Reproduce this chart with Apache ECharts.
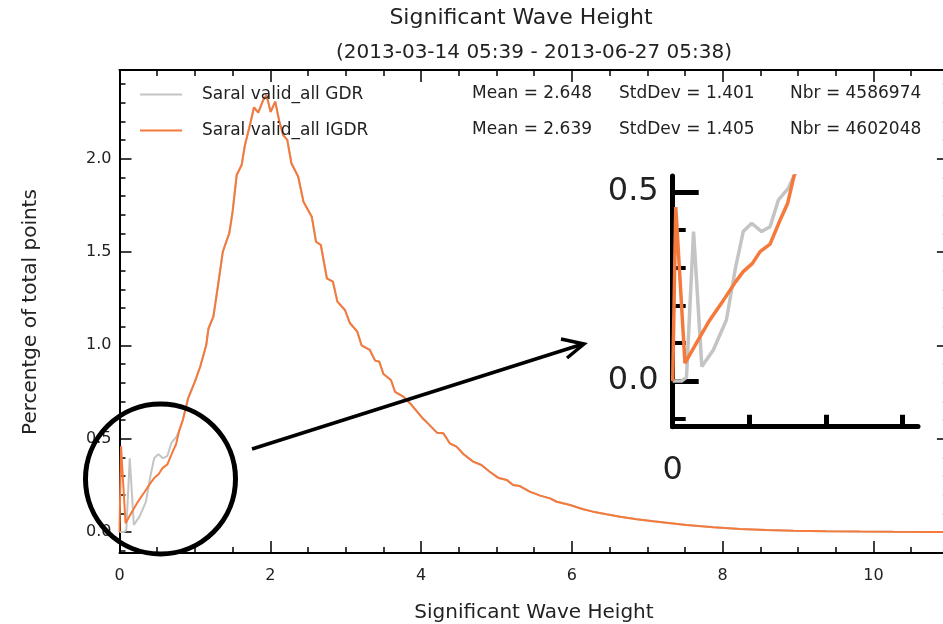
<!DOCTYPE html>
<html><head><meta charset="utf-8">
<script src="https://cdn.jsdelivr.net/npm/echarts@6/dist/echarts.min.js"></script>
<style>html,body{margin:0;padding:0;background:#fff}#c{width:943px;height:624px}</style>
</head><body><div id="c"></div>
<script>
// ---- text ----
const titleText = 'Significant Wave Height';
const subtitleText = '(2013-03-14 05:39 - 2013-06-27 05:38)';
const xAxisName = 'Significant Wave Height';
const yAxisName = 'Percentge of total points';
const seriesNames = ['Saral valid_all GDR', 'Saral valid_all IGDR'];
const meanVals = ['2.648', '2.639'];
const stdVals = ['1.401', '1.405'];
const nbrVals = ['4586974', '4602048'];

// ---- ticks ----
const xMajorLabels = [0, 2, 4, 6, 8, 10];
const yMajorTicks = [0, 0.5, 1.0, 1.5, 2.0];
const yMinorTicks = [-0.1, 0.1, 0.2, 0.3, 0.4, 0.6, 0.7, 0.8, 0.9, 1.1, 1.2, 1.3, 1.4, 1.6, 1.7, 1.8, 1.9, 2.1, 2.2, 2.3, 2.4];
const insetYMajorTicks = [0, 0.5];
const insetYMinorTicks = [-0.1, 0.1, 0.2, 0.3, 0.4];
const insetXTicks = [0.5, 1.0, 1.5];
const insetXLabels = [0];

// ---- data ----
const igdrX = [0.00, 0.02, 0.08, 0.16, 0.24, 0.33, 0.41, 0.46, 0.52, 0.57, 0.635, 0.70, 0.75, 0.79, 0.84, 0.91, 1.00, 1.07, 1.15, 1.18, 1.245, 1.31, 1.37, 1.40, 1.456, 1.50, 1.554, 1.62, 1.664, 1.73, 1.784, 1.84, 1.907, 1.95, 2.005, 2.066, 2.12, 2.17, 2.225, 2.28, 2.37, 2.44, 2.55, 2.606, 2.67, 2.75, 2.83, 2.89, 2.99, 3.057, 3.154, 3.21, 3.32, 3.39, 3.446, 3.50, 3.60, 3.654, 3.764, 3.875, 4.03, 4.07, 4.21, 4.295, 4.38, 4.47, 4.56, 4.69, 4.80, 4.91, 5.02, 5.135, 5.22, 5.31, 5.44, 5.58, 5.71, 5.80, 5.975, 6.15, 6.28, 6.46, 6.64, 6.86, 7.08, 7.34, 7.52, 7.875, 8.23, 8.58, 8.94, 9.38, 9.82, 10.26, 10.84, 11.0];
const igdrY = [0.00, 0.46, 0.047, 0.104, 0.160, 0.213, 0.262, 0.289, 0.311, 0.342, 0.362, 0.425, 0.47, 0.54, 0.60, 0.716, 0.805, 0.885, 1.00, 1.09, 1.153, 1.33, 1.50, 1.537, 1.60, 1.716, 1.912, 1.966, 2.073, 2.18, 2.275, 2.246, 2.314, 2.34, 2.25, 2.305, 2.198, 2.126, 2.10, 1.975, 1.903, 1.769, 1.689, 1.555, 1.537, 1.359, 1.341, 1.234, 1.189, 1.118, 1.073, 1.00, 0.975, 0.918, 0.912, 0.846, 0.814, 0.751, 0.725, 0.68, 0.605, 0.59, 0.532, 0.529, 0.475, 0.457, 0.418, 0.377, 0.359, 0.323, 0.291, 0.279, 0.252, 0.246, 0.216, 0.195, 0.18, 0.162, 0.145, 0.122, 0.109, 0.095, 0.082, 0.068, 0.057, 0.046, 0.0375, 0.025, 0.016, 0.011, 0.007, 0.004, 0.002, 0.001, 0.0005, 0.0005];
// GDR differs visibly only below ~0.8 m; above that it lies under the IGDR curve
const gdrLowX = [0.00, 0.06, 0.09, 0.136, 0.19, 0.265, 0.35, 0.41, 0.46, 0.515, 0.58, 0.635, 0.69, 0.755, 0.80];
const gdrLowY = [0.00, 0.00, 0.01, 0.395, 0.038, 0.082, 0.161, 0.30, 0.395, 0.417, 0.395, 0.408, 0.479, 0.51, 0.55];

const igdr = igdrX.map((x, i) => [x, igdrY[i]]);
const gdr = gdrLowX.map((x, i) => [x, gdrLowY[i]]).concat(igdr.filter(p => p[0] > 0.82));

const FONT = 'DejaVu Sans';
const TXT = '#222';
const ORANGE = '#f5793b';
const GREY = '#c4c4c4';

const chart = echarts.init(document.getElementById('c'), null, {renderer: 'canvas'});

function xAx(grid, pos, opts) {
  return Object.assign({
    type: 'value', gridIndex: grid, position: pos, min: 0, max: 11, interval: 2,
    axisLine: {show: true, onZero: false, lineStyle: {color: '#000', width: 2}},
    axisTick: {show: true, inside: true, length: 12, lineStyle: {color: '#000', width: 1.5}},
    minorTick: {show: true, splitNumber: 4, length: 6, lineStyle: {color: '#000', width: 1.5}},
    axisLabel: {show: false},
    splitLine: {show: false}
  }, opts);
}
function yAx(grid, pos, min, max, ticks, len, w, line, label) {
  return {
    type: 'value', gridIndex: grid, position: pos, min: min, max: max,
    axisLine: {show: !!line, onZero: false, lineStyle: {color: '#000', width: line || 0}},
    axisTick: {show: true, inside: true, customValues: ticks, length: len, lineStyle: {color: '#000', width: w}},
    axisLabel: label ? Object.assign({show: true, customValues: ticks, formatter: v => Number(v).toFixed(1)}, label) : {show: false},
    splitLine: {show: false}
  };
}

const MY0 = -0.1125, MY1 = 2.4746;
const IY0 = -0.121, IY1 = 0.542;

const option = {
  animation: false,
  backgroundColor: '#fff',
  grid: [
    {left: 119.5, top: 70, width: 829.4, height: 483, outerBoundsMode: 'none', containLabel: false},
    {left: 672.7, top: 176, width: 245.3, height: 250.7, outerBoundsMode: 'none', containLabel: false}
  ],
  xAxis: [
    xAx(0, 'bottom', {axisLabel: {show: true, customValues: xMajorLabels, fontSize: 16, fontFamily: FONT, color: TXT, margin: 15}}),
    xAx(0, 'top', {}),
    {
      type: 'value', gridIndex: 1, position: 'bottom', min: 0, max: 1.6,
      axisLine: {show: true, onZero: false, lineStyle: {color: '#000', width: 5}},
      axisTick: {show: true, inside: true, customValues: insetXTicks, length: 12, lineStyle: {color: '#000', width: 5}},
      axisLabel: {show: true, customValues: insetXLabels, formatter: v => String(v), fontSize: 32, fontFamily: FONT, color: TXT, margin: 28},
      splitLine: {show: false}
    }
  ],
  yAxis: [
    yAx(0, 'left', MY0, MY1, yMajorTicks, 12, 1.5, 2, {fontSize: 16, fontFamily: FONT, color: TXT, margin: 8, padding: [3, 0, 0, 0]}),
    yAx(0, 'left', MY0, MY1, yMinorTicks, 6, 1.5, 0, null),
    yAx(0, 'right', MY0, MY1, yMajorTicks, 12, 1.5, 2, null),
    yAx(0, 'right', MY0, MY1, yMinorTicks, 6, 1.5, 0, null),
    yAx(1, 'left', IY0, IY1, insetYMajorTicks, 26, 5, 5, {fontSize: 32, fontFamily: FONT, color: TXT, margin: 14, padding: [6, 0, 0, 0]}),
    yAx(1, 'left', IY0, IY1, insetYMinorTicks, 13, 4, 0, null)
  ],
  legend: [0, 1].map(i => ({
    data: [seriesNames[i]], left: 135, top: 81 + i * 36, orient: 'vertical',
    icon: 'rect', itemWidth: 42, itemHeight: 2, selectedMode: false,
    textStyle: {fontSize: 17, fontFamily: FONT, color: TXT, padding: [0, 0, 0, 15]}
  })),
  series: [
    {name: seriesNames[0], type: 'line', xAxisIndex: 0, yAxisIndex: 0, data: gdr, showSymbol: false, symbol: 'none', color: GREY, lineStyle: {color: GREY, width: 2}, z: 2},
    {name: seriesNames[1], type: 'line', xAxisIndex: 0, yAxisIndex: 0, data: igdr, showSymbol: false, symbol: 'none', color: ORANGE, lineStyle: {color: ORANGE, width: 2}, z: 3},
    {name: seriesNames[0], type: 'line', xAxisIndex: 2, yAxisIndex: 4, data: gdr, showSymbol: false, symbol: 'none', color: GREY, lineStyle: {color: GREY, width: 3.5}, z: 2},
    {name: seriesNames[1], type: 'line', xAxisIndex: 2, yAxisIndex: 4, data: igdr, showSymbol: false, symbol: 'none', color: ORANGE, lineStyle: {color: ORANGE, width: 3.5}, z: 3}
  ],
  graphic: [
    {type: 'text', x: 521, y: 18, style: {text: titleText, fontSize: 22, fontFamily: FONT, fill: TXT, textAlign: 'center', textVerticalAlign: 'middle'}},
    {type: 'text', x: 534, y: 53, style: {text: subtitleText, fontSize: 20, fontFamily: FONT, fill: TXT, textAlign: 'center', textVerticalAlign: 'middle'}},
    {type: 'text', x: 534, y: 613, style: {text: xAxisName, fontSize: 20, fontFamily: FONT, fill: TXT, textAlign: 'center', textVerticalAlign: 'middle'}},
    {type: 'text', x: 31, y: 312, rotation: Math.PI / 2, style: {text: yAxisName, fontSize: 20, fontFamily: FONT, fill: TXT, textAlign: 'center', textVerticalAlign: 'middle'}},
    ...[0, 1].flatMap(i => [
      {type: 'text', x: 472, y: 94 + i * 36, style: {text: 'Mean = ' + meanVals[i], fontSize: 17, fontFamily: FONT, fill: TXT, textVerticalAlign: 'middle'}},
      {type: 'text', x: 619, y: 94 + i * 36, style: {text: 'StdDev = ' + stdVals[i], fontSize: 17, fontFamily: FONT, fill: TXT, textVerticalAlign: 'middle'}},
      {type: 'text', x: 790, y: 94 + i * 36, style: {text: 'Nbr = ' + nbrVals[i], fontSize: 17, fontFamily: FONT, fill: TXT, textVerticalAlign: 'middle'}}
    ]),
    {type: 'circle', z: 100, shape: {cx: 160.5, cy: 479, r: 75}, style: {fill: null, stroke: '#000', lineWidth: 5}},
    {type: 'polyline', z: 100, shape: {points: [[252, 449], [583, 344]]}, style: {stroke: '#000', lineWidth: 3.5, fill: null}},
    {type: 'polyline', z: 100, shape: {points: [[561, 339], [584, 344], [567, 358]]}, style: {stroke: '#000', lineWidth: 3.5, fill: null}}
  ]
};
chart.setOption(option);
</script></body></html>
